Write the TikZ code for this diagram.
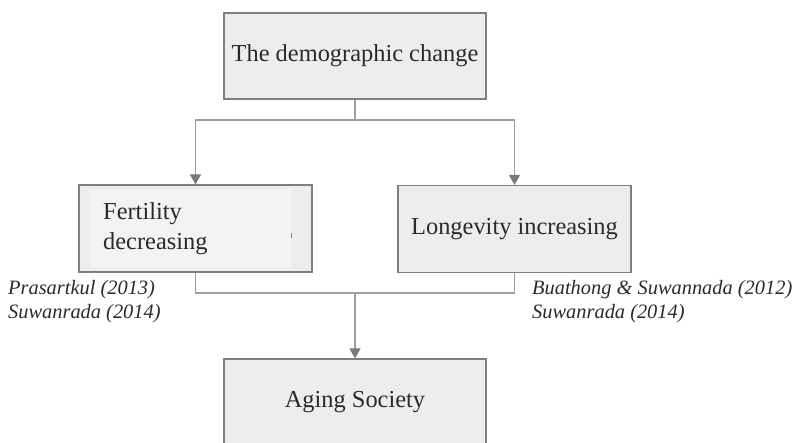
\documentclass[tikz,border=0pt]{standalone}
\usepackage{fontspec}
\setmainfont{Liberation Serif}
\usetikzlibrary{arrows.meta}
\definecolor{boxfill}{HTML}{EDEDED}
\definecolor{boxinner}{HTML}{F3F3F3}
\definecolor{boxline}{HTML}{7F7F7F}
\definecolor{wire}{HTML}{9E9E9E}
\definecolor{tip}{HTML}{7A7A7A}
\definecolor{ink}{HTML}{2A2A2A}
\tikzset{
  box/.style={draw=boxline, fill=boxfill, line width=1.2pt, rectangle,
    minimum width=262pt, minimum height=86pt, inner sep=0pt,
    text=ink, font=\fontsize{24.4}{30}\selectfont},
  sidebox/.style={box, minimum width=233pt, minimum height=87pt},
  wireline/.style={draw=wire, line width=1.2pt},
  flow/.style={wireline, -{Triangle[width=11pt,length=10pt,fill=tip,color=tip]}},
  cite/.style={text=ink, font=\fontsize{20.4}{24}\selectfont\itshape, inner sep=0pt, anchor=base west}
}
\begin{document}
\begin{tikzpicture}[x=1pt,y=-1pt]
  \useasboundingbox (0,0) rectangle (792,443);
  \clip (0,0) rectangle (792,443);

  % boxes
  \node[box] (demo) at (355,56) {The demographic change};
  \node[sidebox] (fert) at (195.5,228.5) {};
  \node[sidebox] (long) at (514.5,229) {Longevity increasing};
  \node[box] (aging) at (355,402) {Aging Society};

  % lighter inset panel inside the fertility box
  \fill[boxinner] (90,189) rectangle (291,268);
  \draw[boxline, line width=0.8pt] (291,233) -- (291,238);
  \node[text=ink, font=\fontsize{24.4}{30}\selectfont, align=left, inner sep=0pt, anchor=base west]
    (ferttext) at (103,250) {Fertility\\decreasing};

  % junction points
  \coordinate (split) at (355,120);
  \coordinate (join) at (355,293);

  % connectors
  \draw[wireline] (demo.south) -- (split);
  \draw[flow] (split) -| (fert.north);
  \draw[flow] (split) -| (long.north);
  \draw[wireline] (fert.south) |- (join);
  \draw[wireline] (long.south) |- (join);
  \draw[flow] (join) -- (aging.north);

  % references
  \node[cite] (c1) at (8,295) {Prasartkul (2013)};
  \node[cite] (c2) at (8,319) {Suwanrada (2014)};
  \node[cite] (c3) at (532,295) {Buathong \& Suwannada (2012)};
  \node[cite] (c4) at (532,319) {Suwanrada (2014)};
\end{tikzpicture}
\end{document}
